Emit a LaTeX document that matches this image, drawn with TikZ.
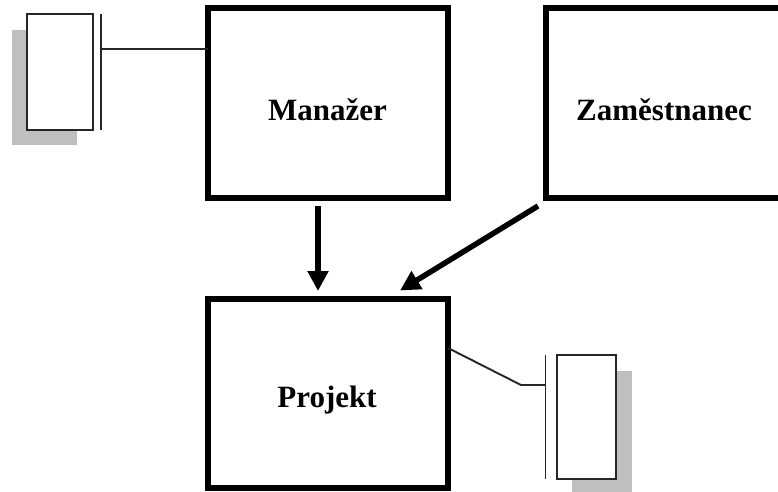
\documentclass[tikz,border=0pt]{standalone}
\usepackage{fontspec}
\setmainfont{Liberation Serif}
\usetikzlibrary{arrows.meta}
\tikzset{
  x=1pt,y=-1pt,
  entity/.style={draw=black,line width=6pt,fill=white,rectangle,outer sep=0pt,inner sep=0pt},
  label/.style={font=\bfseries\fontsize{31}{36}\selectfont,text=black},
  store/.style={draw=black!85,line width=2pt,fill=white,rectangle,outer sep=0pt,inner sep=0pt},
  shade/.style={fill=black!25,draw=none,rectangle,outer sep=0pt,inner sep=0pt},
  thinline/.style={draw=black!85,line width=1.9pt},
  flow/.style={draw=black,line width=5.5pt,-{Triangle[length=20pt,width=20pt]}},
}
\begin{document}
\begin{tikzpicture}
\useasboundingbox[fill=white] (0,0) rectangle (778,491);
% entities
\node[entity,minimum width=240pt,minimum height=190pt] (man) at (328,103) {};
\node[entity,minimum width=236pt,minimum height=190pt] (zam) at (664,103) {};
\node[entity,minimum width=240pt,minimum height=189pt] (proj) at (328,393.5) {};
\node[label] (tman) at (327.5,110) {Manažer};
\node[label] (tzam) at (664,110) {Zaměstnanec};
\node[label] (tproj) at (327,400) {Projekt};
% left store
\node[shade,minimum width=65pt,minimum height=115pt] (sh1) at (44,87.5) {};
\node[store,minimum width=65.5pt,minimum height=115.5pt] (st1) at (59.75,71.75) {};
\coordinate (b1t) at (101,14);
\coordinate (b1b) at (101,130);
\coordinate (j1) at (101,49);
\draw[thinline] (b1t) -- (b1b);
\draw[thinline] (j1) -- (j1 -| man.west);
% right store
\node[shade,minimum width=60pt,minimum height=123pt] (sh2) at (602,432.5) {};
\node[store,minimum width=59.5pt,minimum height=123.5pt] (st2) at (586.25,416.75) {};
\coordinate (b2t) at (545.5,355);
\coordinate (b2b) at (545.5,479);
\coordinate (j2) at (545.5,385);
\coordinate (k2) at (521,385);
\draw[thinline] (b2t) -- (b2b);
\draw[thinline] (j2) -- (k2) -- ([yshift=45.5pt]proj.east);
% flows
\draw[flow] ([xshift=-10pt,yshift=-8pt]man.south) -- ([xshift=-10pt,yshift=8pt]proj.north);
\draw[flow] ([xshift=-8pt,yshift=-8pt]zam.south west) -- ([xshift=-48pt,yshift=8.5pt]proj.north east);
\end{tikzpicture}
\end{document}
